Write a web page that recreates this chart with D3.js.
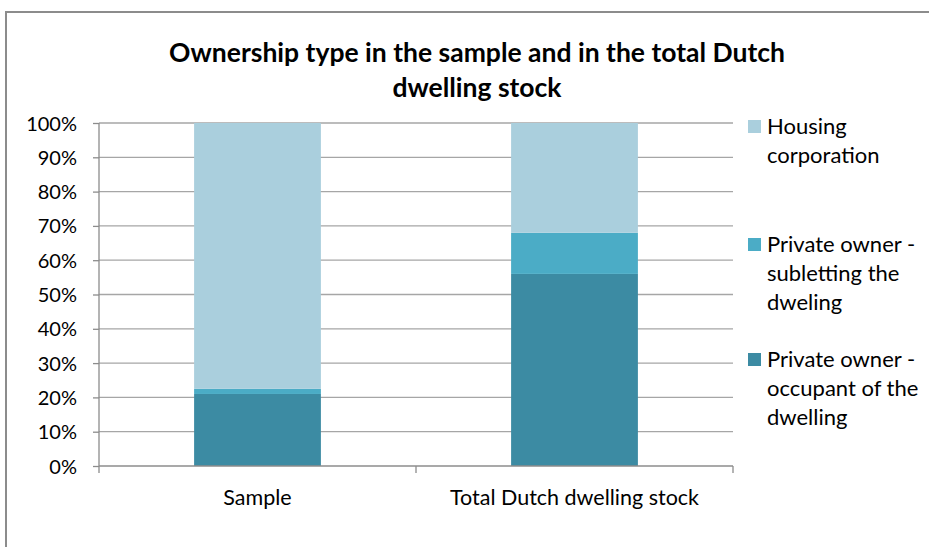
<!DOCTYPE html>
<html>
<head>
<meta charset="utf-8">
<script src="https://cdn.jsdelivr.net/npm/d3@7"></script>
<style>
  html, body { margin: 0; padding: 0; background: #fff; }
  svg { display: block; font-family: Lato, "Open Sans", sans-serif; }
</style>
</head>
<body>
<svg id="chart" width="929" height="547"></svg>
<script>
// Categories along the x axis
const categories = ["Sample", "Total Dutch dwelling stock"];

// Shares (%) per ownership type, stacked bottom to top
const seriesNames = [
  "Private owner - occupant of the dwelling",
  "Private owner - subletting the dweling",
  "Housing corporation"
];
const occupant   = [21, 56];
const subletting = [1.5, 12];
const corporation = [77.5, 32];

const yTicks = [0, 10, 20, 30, 40, 50, 60, 70, 80, 90, 100];

// Legend entries, top to bottom, with wrapped lines
const legendLines = [
  ["Housing", "corporation"],
  ["Private owner -", "subletting the", "dweling"],
  ["Private owner -", "occupant of the", "dwelling"]
];

const colors = ["#3c8ba3", "#4bacc6", "#aacfdd"];

const svg = d3.select("#chart");
const margin = { left: 99, right: 929 - 733, top: 123, bottom: 547 - 466 };

// Outer chart frame
svg.append("rect")
  .attr("x", 6).attr("y", 12)
  .attr("width", 940).attr("height", 560)
  .attr("fill", "none").attr("stroke", "#8c8c8c").attr("stroke-width", 2);

// Title
const title = svg.append("text")
  .attr("text-anchor", "middle")
  .attr("font-weight", "bold")
  .attr("font-size", 26.5)
  .attr("fill", "#000");
title.append("tspan").attr("x", 477).attr("y", 62).text("Ownership type in the sample and  in the total Dutch");
title.append("tspan").attr("x", 477).attr("y", 97).text("dwelling stock");

const x = d3.scaleBand()
  .domain(categories)
  .range([margin.left, 929 - margin.right])
  .paddingInner(0.6)
  .paddingOuter(0.3);

// Band used for category ticks (full-width slots)
const slot = d3.scaleBand()
  .domain(categories)
  .range([margin.left, 929 - margin.right]);

const y = d3.scaleLinear()
  .domain([0, 100])
  .range([547 - margin.bottom, margin.top]);

// Horizontal gridlines
svg.append("g")
  .selectAll("line")
  .data(yTicks.filter(d => d > 0))
  .join("line")
  .attr("x1", margin.left).attr("x2", 929 - margin.right)
  .attr("y1", d => y(d)).attr("y2", d => y(d))
  .attr("stroke", "#a6a6a6").attr("stroke-width", 1.3);

// Stacked bars
const rows = categories.map((c, i) => ({
  category: c, occupant: occupant[i], subletting: subletting[i], corporation: corporation[i]
}));
const stack = d3.stack().keys(["occupant", "subletting", "corporation"]);
const layers = stack(rows);

svg.append("g")
  .selectAll("g")
  .data(layers)
  .join("g")
  .attr("fill", (d, i) => colors[i])
  .selectAll("rect")
  .data(d => d)
  .join("rect")
  .attr("x", d => x(d.data.category))
  .attr("width", x.bandwidth())
  .attr("y", d => y(d[1]))
  .attr("height", d => y(d[0]) - y(d[1]));

// Y axis
const yAxis = d3.axisLeft(y)
  .tickValues(yTicks)
  .tickFormat(d => d + "%")
  .tickSize(6)
  .tickPadding(16);
const gy = svg.append("g")
  .attr("transform", `translate(${margin.left},0)`)
  .call(yAxis);
gy.select(".domain").attr("stroke", "#8c8c8c").attr("stroke-width", 1.3).attr("d", `M0,${y(100)}V${y(0)}`);
gy.selectAll(".tick line").attr("stroke", "#8c8c8c").attr("stroke-width", 1.3);
gy.selectAll(".tick text")
  .attr("font-size", 20).attr("fill", "#000")
  .attr("font-family", "Lato, 'Open Sans', sans-serif")
  .attr("dy", "0.35em");

// X axis baseline and category separators
const gx = svg.append("g");
gx.append("line")
  .attr("x1", margin.left).attr("x2", 929 - margin.right)
  .attr("y1", y(0)).attr("y2", y(0))
  .attr("stroke", "#8c8c8c").attr("stroke-width", 1.3);
const boundaries = [slot(categories[0]), slot(categories[1]), slot(categories[1]) + slot.bandwidth()];
gx.selectAll(".sep")
  .data(boundaries)
  .join("line")
  .attr("x1", d => d).attr("x2", d => d)
  .attr("y1", y(0)).attr("y2", y(0) + 7)
  .attr("stroke", "#8c8c8c").attr("stroke-width", 1.3);
gx.selectAll(".cat")
  .data(categories)
  .join("text")
  .attr("x", d => x(d) + x.bandwidth() / 2)
  .attr("y", 505)
  .attr("text-anchor", "middle")
  .attr("font-size", 21.5)
  .attr("fill", "#000")
  .text(d => d);

// Legend
const legendColors = [colors[2], colors[1], colors[0]];
const legendTop = [126, 244, 359];
const lg = svg.append("g");
legendLines.forEach((lines, i) => {
  lg.append("rect")
    .attr("x", 748).attr("y", legendTop[i] - 6)
    .attr("width", 13).attr("height", 13)
    .attr("fill", legendColors[i]);
  const t = lg.append("text")
    .attr("font-size", 22).attr("fill", "#000");
  lines.forEach((s, j) => {
    t.append("tspan").attr("x", 767).attr("y", legendTop[i] + 8 + j * 29).text(s);
  });
});
</script>
</body>
</html>
